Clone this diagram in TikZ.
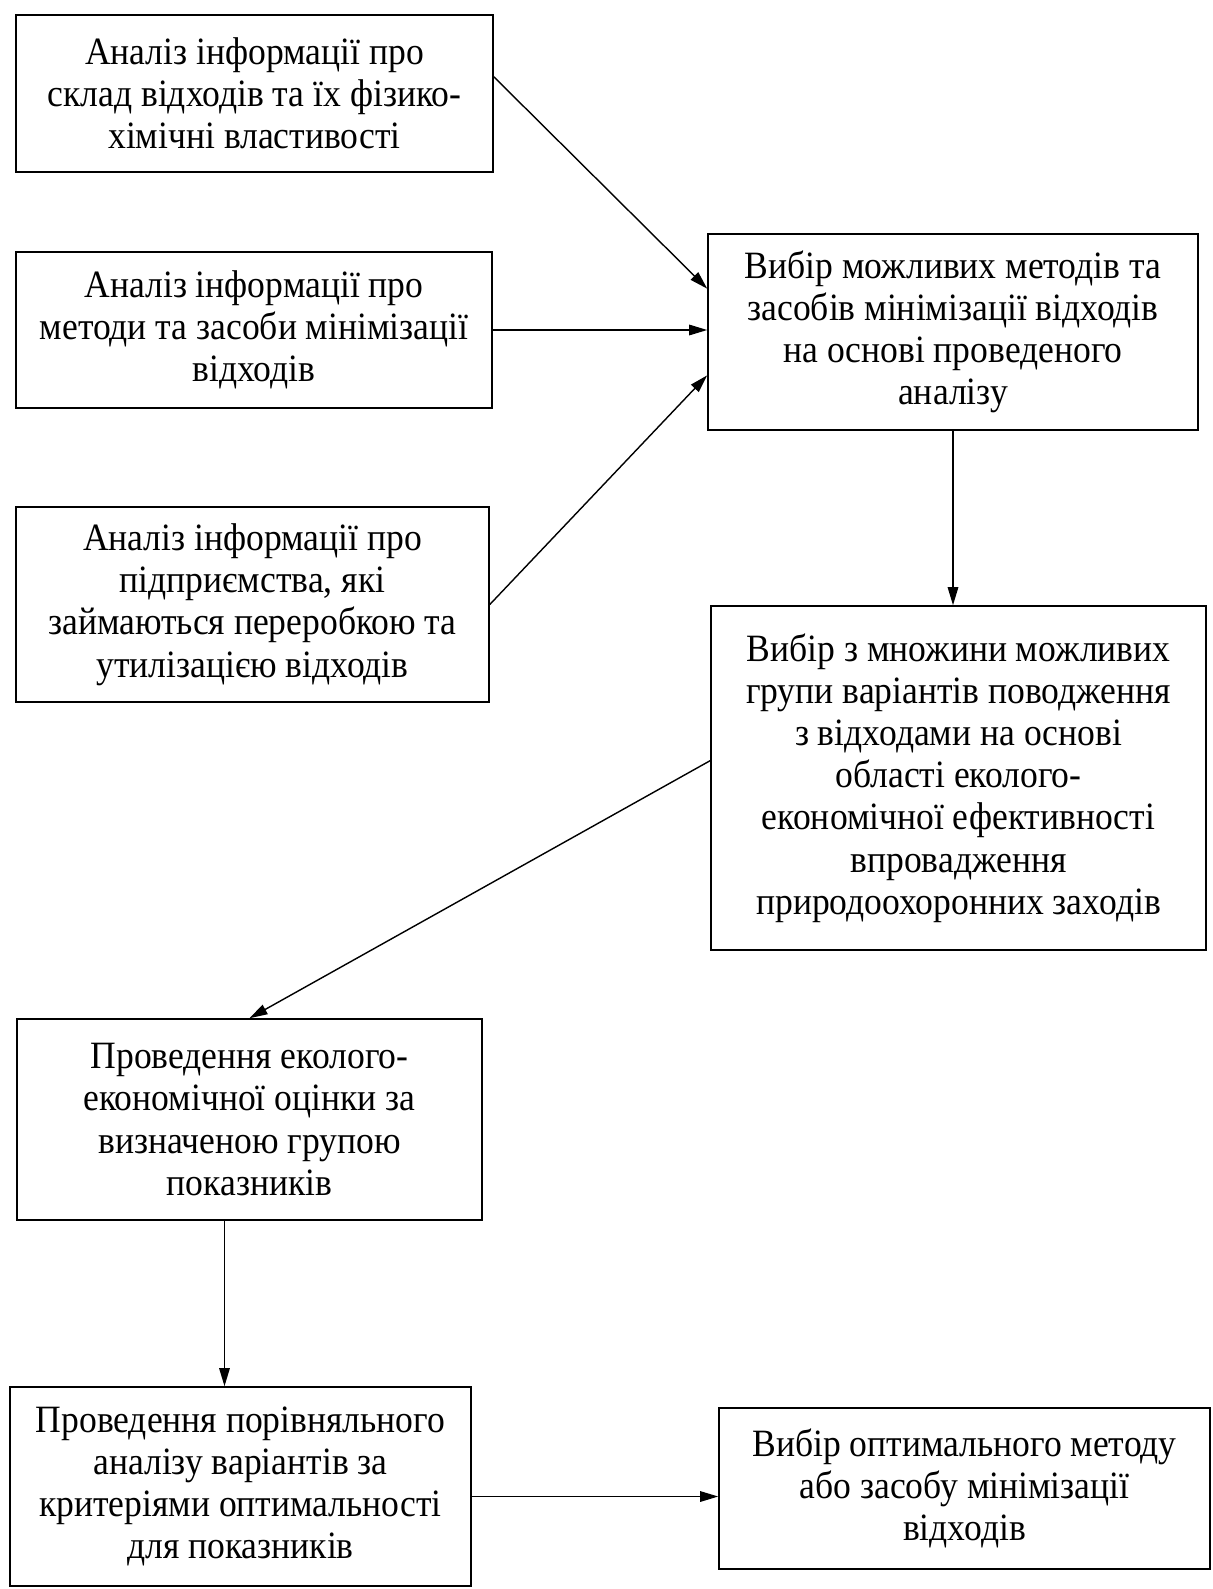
\documentclass[tikz,border=0pt]{standalone}
\usepackage{fontspec}
\setmainfont{Liberation Serif}[FakeStretch=0.92]
\usepackage{tikz}
\usetikzlibrary{arrows.meta,calc,positioning}

\begin{document}
\begin{tikzpicture}[
  box/.style={draw, line width=0.9pt, align=center, inner sep=2pt,
    font=\fontsize{22}{24}\selectfont},
  arr/.style={-{Triangle[length=0.36cm,width=0.21cm]}, line width=0.8pt}]

\useasboundingbox (0,0) rectangle (24.24,-31.78);

% --- вихідна інформація ---
\node[box, minimum width=9.54cm, minimum height=3.14cm] (A1) at (5.09,-1.87)
  {Аналіз інформації про\\склад відходів та їх фізико-\\хімічні властивості};
\node[box, minimum width=9.52cm, minimum height=3.12cm] (A2) at (5.08,-6.60)
  {Аналіз інформації про\\методи та засоби мінімізації\\відходів};
\node[box, minimum width=9.46cm, minimum height=3.90cm] (A3) at (5.05,-12.09)
  {Аналіз інформації про\\підприємства, які\\займаються переробкою та\\утилізацією відходів};

% --- вибір варіантів ---
\node[box, minimum width=9.80cm, minimum height=3.92cm] (B1) at (19.06,-6.64)
  {Вибір можливих методів та\\засобів мінімізації відходів\\на основі проведеного\\аналізу};
\node[box, minimum width=9.90cm, minimum height=6.88cm] (B2) at (19.17,-15.56)
  {Вибір з множини можливих\\групи варіантів поводження\\з відходами на основі\\області еколого-\\економічної ефективності\\впровадження\\природоохоронних заходів};

% --- оцінка і результат ---
\node[box, minimum width=9.30cm, minimum height=4.02cm] (C1) at (4.99,-22.39)
  {Проведення еколого-\\економічної оцінки за\\визначеною групою\\показників};
\node[box, minimum width=9.22cm, minimum height=3.98cm] (C2) at (4.81,-29.73)
  {Проведення порівняльного\\аналізу варіантів за\\критеріями оптимальності\\для показників};
\node[box, minimum width=9.82cm, minimum height=3.22cm] (C3) at (19.29,-29.77)
  {Вибір оптимального методу\\або засобу мінімізації\\відходів};

% --- зв'язки ---
\draw[arr] (A1.4.4) -- (B1.170);
\draw[arr] (A2.east) -- (A2.east -| B1.west);
\draw[arr] (A3.east) -- (B1.190);
\draw[arr] (B1.south) -- (B1.south |- B2.north);
\draw[arr] (B2.176.5) -- (C1.north);
\draw[arr] ([xshift=-0.5cm]C1.south) -- ([xshift=-0.5cm]C1.south |- C2.north);
\draw[arr] ([yshift=-0.2cm]C2.east) -- ([yshift=-0.2cm]C2.east -| C3.west);
\end{tikzpicture}
\end{document}
